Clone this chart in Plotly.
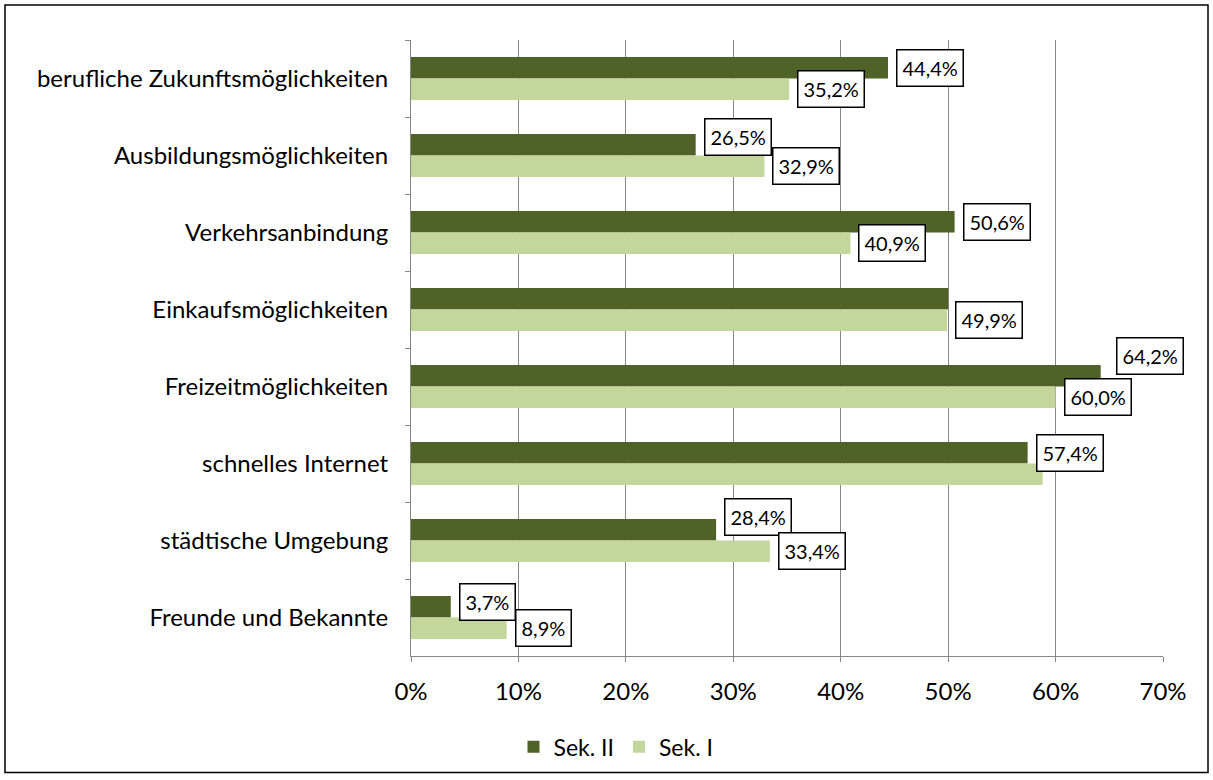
import plotly.graph_objects as go

categories = [
    "berufliche Zukunftsmöglichkeiten",
    "Ausbildungsmöglichkeiten",
    "Verkehrsanbindung",
    "Einkaufsmöglichkeiten",
    "Freizeitmöglichkeiten",
    "schnelles Internet",
    "städtische Umgebung",
    "Freunde und Bekannte",
]
sek2_values = [44.4, 26.5, 50.6, 50.0, 64.2, 57.4, 28.4, 3.7]
sek1_values = [35.2, 32.9, 40.9, 49.9, 60.0, 58.8, 33.4, 8.9]
sek2_labeled = [True, True, True, False, True, True, True, True]
sek1_labeled = [True, True, True, True, True, False, True, True]
series_names = ["Sek. II", "Sek. I"]
x_ticks = [0, 10, 20, 30, 40, 50, 60, 70]
x_tick_labels = ["0%", "10%", "20%", "30%", "40%", "50%", "60%", "70%"]

DARK = "#4F6228"
LIGHT = "#C3D69B"
GRID = "#878787"
FONT = "Lato"

# label placement nudges (pixels) to avoid overlapping boxes, as in the original
SEK2_LABEL_NUDGE = {1: (0, 8), 4: (7, 20), 6: (0, 13), 7: (0, 5)}

fig = go.Figure()
fig.add_trace(go.Bar(y=categories, x=sek2_values, orientation="h", name=series_names[0],
                     marker=dict(color=DARK, line=dict(width=0))))
fig.add_trace(go.Bar(y=categories, x=sek1_values, orientation="h", name=series_names[1],
                     marker=dict(color=LIGHT, line=dict(width=0))))


def fmt(v):
    return f"{v:.1f}".replace(".", ",") + "%"


annotations = []
for vals, flags, shift, nudges in ((sek2_values, sek2_labeled, 10.8, SEK2_LABEL_NUDGE),
                                   (sek1_values, sek1_labeled, -10.8, {})):
    for i, (c, v, f) in enumerate(zip(categories, vals, flags)):
        if not f:
            continue
        dx, dy = nudges.get(i, (0, 0))
        annotations.append(dict(
            x=v, y=c, xref="x", yref="y", text=fmt(v), showarrow=False,
            xanchor="left", yanchor="middle", xshift=8 + dx, yshift=shift + dy,
            font=dict(family=FONT, size=20, color="black"), height=25, valign="middle",
            bgcolor="white", bordercolor="black", borderwidth=1.5, borderpad=5,
        ))

L, R, T, B = 411, 50, 40, 122
W, H = 1213, 780
pw, ph = W - L - R, H - T - B

fig.update_layout(
    width=W, height=H,
    margin=dict(l=L, r=R, t=T, b=B),
    paper_bgcolor="white", plot_bgcolor="white",
    barmode="group", bargap=0.44, bargroupgap=0,
    font=dict(family=FONT, size=24, color="black"),
    annotations=annotations,
    legend=dict(orientation="h", x=(616 - L) / pw, xanchor="center",
                y=(T + ph - 749) / ph, yanchor="middle",
                font=dict(family=FONT, size=23), traceorder="normal"),
    shapes=[dict(type="rect", xref="paper", yref="paper",
                 x0=(5 - L) / pw, x1=(1208 - L) / pw,
                 y0=(T + ph - 775) / ph, y1=(T + ph - 5) / ph,
                 line=dict(color="black", width=1.5), fillcolor="rgba(0,0,0,0)", layer="below")],
)
fig.update_xaxes(range=[0, 70], tickvals=x_ticks, ticktext=x_tick_labels,
                 showgrid=True, gridcolor=GRID, gridwidth=1,
                 showline=True, linecolor=GRID, linewidth=1,
                 ticks="outside", ticklen=5, tickcolor=GRID,
                 ticklabelstandoff=9, zeroline=False,
                 tickfont=dict(family=FONT, size=24))
fig.update_yaxes(autorange="reversed", categoryorder="array", categoryarray=categories,
                 showgrid=False, showline=True, linecolor=GRID, linewidth=1,
                 ticks="outside", ticklen=5, tickcolor=GRID, tickson="boundaries",
                 ticklabelstandoff=17, tickfont=dict(family=FONT, size=24))

fig.write_html("out.html", config={"displayModeBar": False},
               post_script="document.body.style.margin='0px';")
